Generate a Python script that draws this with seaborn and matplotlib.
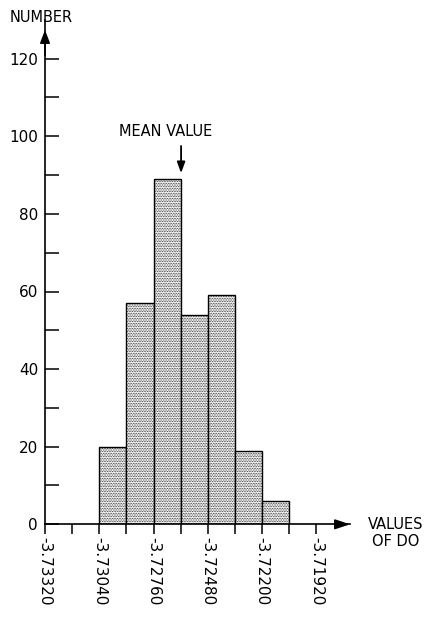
import numpy as np
import pandas as pd
import matplotlib
matplotlib.use("Agg")
import matplotlib.pyplot as plt
import seaborn as sns

# Histogram of DO values
bin_edges = [-3.73040, -3.72900, -3.72760, -3.72620, -3.72480, -3.72340, -3.72200, -3.72060]
counts = [20, 57, 89, 54, 59, 19, 6]

x_major_ticks = [-3.73320, -3.73040, -3.72760, -3.72480, -3.72200, -3.71920]
x_major_labels = ["-3.73320", "-3.73040", "-3.72760", "-3.72480", "-3.72200", "-3.71920"]
x_minor_ticks = [-3.73180, -3.72900, -3.72620, -3.72340, -3.72060]
y_major_ticks = [0, 20, 40, 60, 80, 100, 120]
y_minor_ticks = [10, 30, 50, 70, 90, 110]

sns.set_theme(style="white")
plt.rcParams["font.family"] = ["DejaVu Sans"]
plt.rcParams["text.color"] = "black"
plt.rcParams["xtick.labelcolor"] = "black"
plt.rcParams["ytick.labelcolor"] = "black"
plt.rcParams["hatch.color"] = "#8c8c8c"
plt.rcParams["hatch.linewidth"] = 0.4
plt.rcParams["axes.unicode_minus"] = False

centers = [(a + b) / 2 for a, b in zip(bin_edges[:-1], bin_edges[1:])]
df = pd.DataFrame({"do": centers, "n": counts})

fig = plt.figure(figsize=(4.32, 6.21), dpi=100)
ax = fig.add_axes([45 / 432, 1 - 524.3 / 621, 305 / 432, 504.4 / 621])

sns.histplot(data=df, x="do", weights="n", bins=bin_edges, ax=ax,
             stat="count", fill=True, facecolor="#f6f6f6", edgecolor="black",
             linewidth=1.0, alpha=1.0, hatch="..........")

ax.set_xlim(-3.73320, -3.71747)
ax.set_ylim(0, 130)

for s in ["top", "right"]:
    ax.spines[s].set_visible(False)
for s in ["left", "bottom"]:
    ax.spines[s].set_linewidth(1.2)
    ax.spines[s].set_color("black")

ax.set_xticks(x_major_ticks)
ax.set_xticklabels(x_major_labels, rotation=-90, fontsize=11)
ax.set_xticks(x_minor_ticks, minor=True)
ax.set_yticks(y_major_ticks)
ax.set_yticklabels([str(v) for v in y_major_ticks], fontsize=11)
ax.set_yticks(y_minor_ticks, minor=True)

ax.tick_params(axis="x", which="both", direction="out", length=7, width=1.1,
               color="black", pad=2, bottom=True)
ax.tick_params(axis="y", which="both", direction="in", length=10, width=1.1,
               color="black", pad=5, left=True)
ax.set_xlabel("")
ax.set_ylabel("")

# axis arrows
ax.annotate("", xy=(1.0, 0), xytext=(0.95, 0), xycoords="axes fraction",
            arrowprops=dict(arrowstyle="-|>,head_length=0.75,head_width=0.25",
                            color="black", lw=1.2, shrinkA=0, shrinkB=0),
            annotation_clip=False)
ax.annotate("", xy=(0, 0.98), xytext=(0, 0.93), xycoords="axes fraction",
            arrowprops=dict(arrowstyle="-|>,head_length=0.65,head_width=0.25",
                            color="black", lw=1.2, shrinkA=0, shrinkB=0),
            annotation_clip=False)

fig.text(10 / 432, 1 - 17 / 621, "NUMBER", fontsize=10.5, ha="left", va="center")
fig.text(396 / 432, 1 - 533 / 621, "VALUES\nOF DO", fontsize=10.5, ha="center",
         va="center", linespacing=1.1)

# arrow marking the mean of the distribution
mean_do = np.sum(np.array(centers) * np.array(counts)) / np.sum(counts)
ax.annotate("", xy=(mean_do, 90.5), xytext=(mean_do, 97.5),
            arrowprops=dict(arrowstyle="-|>,head_length=0.55,head_width=0.2",
                            color="black", lw=1.3, shrinkA=0, shrinkB=0))
ax.text(-3.72700, 99.3, "MEAN VALUE", fontsize=10.5, ha="center", va="bottom")

fig.savefig("out.png", dpi=100, facecolor="white")
